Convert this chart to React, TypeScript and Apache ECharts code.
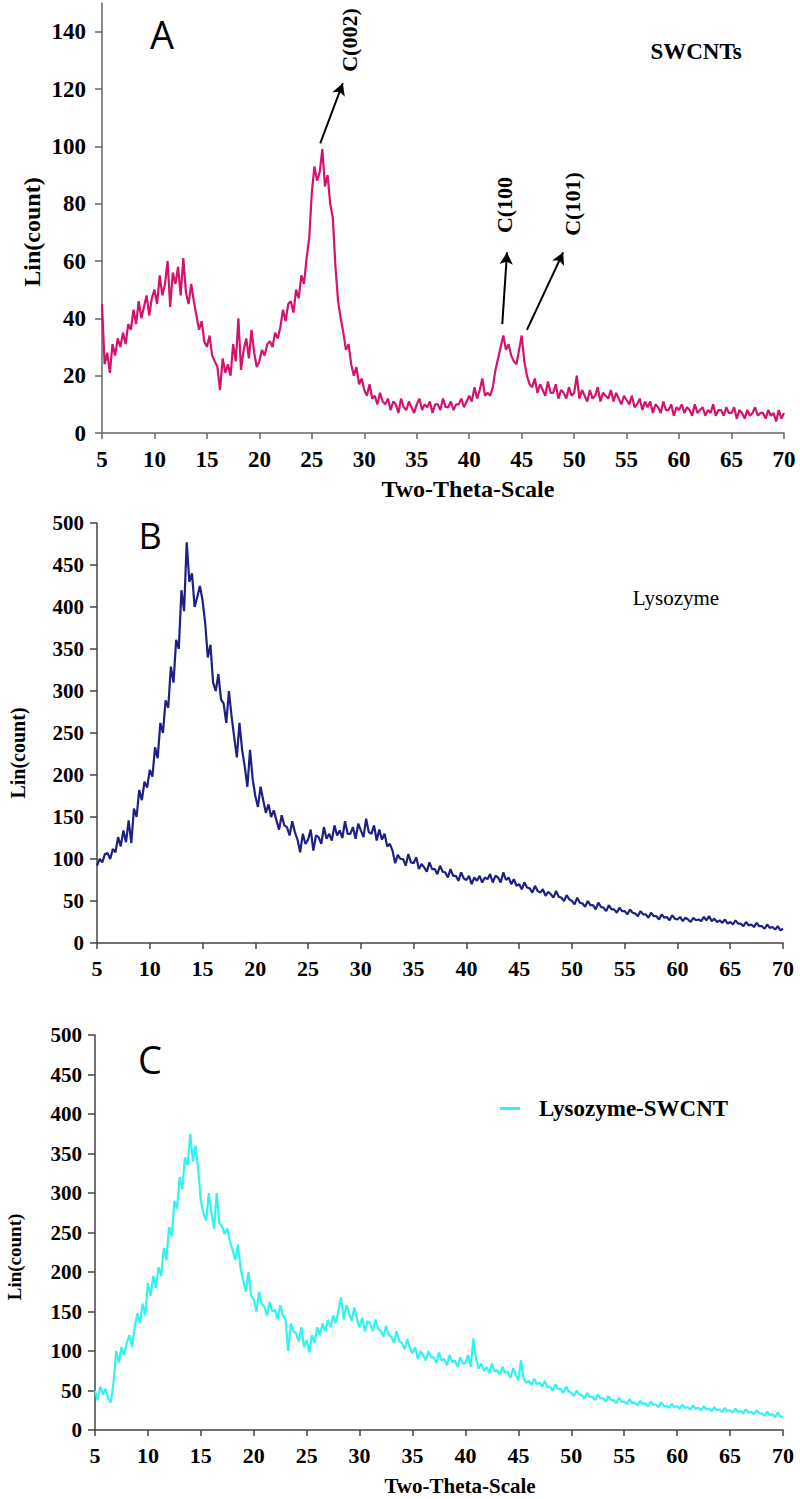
import React, { useEffect, useRef } from "react";
import * as echarts from "echarts";

// Two-theta sampling of the digitised patterns
const X_START = 5;
const X_STEP = 0.25;

// Panel A: SWCNTs, Lin(count), one row per degree (x, x+.25, x+.5, x+.75)
const swcntCounts = [
  45, 24, 28, 21, // 5
  31, 27, 33, 30, // 6
  35, 31, 38, 36, // 7
  43, 38, 46, 40, // 8
  44, 48, 41, 47, // 9
  50, 45, 55, 48, // 10
  52, 60, 44, 56, // 11
  52, 58, 48, 61, // 12
  49, 45, 52, 46, // 13
  41, 36, 39, 32, // 14
  30, 34, 27, 25, // 15
  23, 15, 26, 21, // 16
  24, 20, 31, 25, // 17
  40, 22, 29, 33, // 18
  26, 36, 28, 23, // 19
  25, 29, 27, 31, // 20
  32, 30, 35, 33, // 21
  37, 43, 39, 45, // 22
  46, 42, 50, 47, // 23
  55, 52, 61, 68, // 24
  84, 93, 88, 91, // 25
  99, 86, 90, 80, // 26
  75, 58, 46, 40, // 27
  35, 29, 31, 24, // 28
  20, 23, 17, 19, // 29
  15, 13, 17, 12, // 30
  13, 10, 14, 11, // 31
  10, 12, 8, 11, // 32
  10, 7, 12, 9, // 33
  8, 11, 9, 7, // 34
  10, 12, 8, 10, // 35
  9, 11, 7, 10, // 36
  10, 8, 12, 9, // 37
  9, 11, 8, 10, // 38
  10, 12, 9, 11, // 39
  13, 11, 16, 12, // 40
  15, 19, 13, 14, // 41
  13, 16, 22, 26, // 42
  30, 34, 29, 31, // 43
  27, 25, 24, 29, // 44
  34, 25, 20, 17, // 45
  16, 19, 14, 17, // 46
  15, 13, 18, 14, // 47
  14, 17, 12, 15, // 48
  14, 12, 16, 13, // 49
  14, 20, 12, 15, // 50
  13, 11, 15, 12, // 51
  13, 16, 11, 14, // 52
  13, 12, 15, 11, // 53
  14, 12, 10, 13, // 54
  11.5, 10, 13, 9, // 55
  10, 12, 8, 11, // 56
  9, 11, 7, 10, // 57
  9, 7, 11, 8, // 58
  8, 10, 6, 9, // 59
  8, 10, 7, 9, // 60
  8, 6, 10, 7, // 61
  8, 9, 6, 8, // 62
  7, 10, 6, 8, // 63
  8, 6, 9, 7, // 64
  7, 9, 5, 8, // 65
  7, 5, 8, 6, // 66
  7, 9, 6, 7, // 67
  7, 5, 8, 6, // 68
  7, 4, 8, 5, // 69
  7, // 70
];

// Panel B: Lysozyme
const lysozymeCounts = [
  92, 100, 96, 106, // 5
  107, 100, 112, 108, // 6
  126, 115, 134, 120, // 7
  146, 119, 160, 150, // 8
  182, 170, 192, 185, // 9
  206, 198, 233, 220, // 10
  262, 250, 289, 280, // 11
  329, 310, 361, 350, // 12
  420, 395, 477, 430, // 13
  440, 400, 412, 425, // 14
  408, 381, 340, 355, // 15
  310, 300, 320, 290, // 16
  285, 262, 300, 270, // 17
  245, 221, 262, 230, // 18
  210, 186, 230, 195, // 19
  175, 162, 186, 170, // 20
  155, 165, 150, 158, // 21
  146, 135, 152, 140, // 22
  138, 128, 145, 132, // 23
  123, 108, 130, 118, // 24
  123, 135, 110, 128, // 25
  126, 118, 138, 124, // 26
  130, 122, 140, 128, // 27
  134, 125, 145, 130, // 28
  130, 138, 124, 142, // 29
  134, 126, 148, 132, // 30
  130, 140, 122, 135, // 31
  123, 130, 115, 118, // 32
  110, 95, 105, 100, // 33
  100, 92, 106, 96, // 34
  95, 102, 88, 94, // 35
  90, 85, 96, 88, // 36
  88, 82, 92, 85, // 37
  84, 78, 88, 80, // 38
  80, 74, 84, 77, // 39
  75, 80, 70, 78, // 40
  74, 80, 72, 78, // 41
  76, 82, 72, 80, // 42
  78, 72, 84, 75, // 43
  78, 70, 76, 68, // 44
  70, 64, 72, 66, // 45
  65, 60, 68, 62, // 46
  60, 64, 56, 61, // 47
  58, 54, 62, 55, // 48
  54, 50, 57, 52, // 49
  50, 46, 54, 48, // 50
  47, 43, 50, 45, // 51
  45, 40, 48, 43, // 52
  42, 38, 45, 40, // 53
  40, 36, 42, 38, // 54
  38, 34, 40, 36, // 55
  35, 32, 38, 34, // 56
  34, 30, 36, 32, // 57
  32, 28, 34, 30, // 58
  31, 27, 33, 29, // 59
  28, 31, 26, 30, // 60
  28, 25, 30, 27, // 61
  28, 26, 31, 27, // 62
  32, 26, 29, 25, // 63
  27, 24, 28, 23, // 64
  25, 22, 27, 23, // 65
  23, 20, 25, 21, // 66
  22, 19, 24, 20, // 67
  20, 17, 22, 18, // 68
  19, 16, 20, 15, // 69
  17, // 70
];

// Panel C: Lysozyme-SWCNT
const lysoSwcntCounts = [
  50, 38, 55, 45, // 5
  52, 40, 35, 60, // 6
  100, 85, 105, 95, // 7
  110, 120, 105, 130, // 8
  148, 135, 160, 145, // 9
  186, 170, 195, 180, // 10
  206, 195, 230, 215, // 11
  257, 245, 290, 280, // 12
  320, 305, 345, 335, // 13
  375, 340, 360, 330, // 14
  290, 275, 265, 300, // 15
  275, 255, 300, 262, // 16
  258, 248, 255, 238, // 17
  228, 215, 235, 205, // 18
  190, 175, 200, 170, // 19
  165, 150, 175, 160, // 20
  156, 145, 162, 150, // 21
  152, 140, 158, 145, // 22
  140, 100, 135, 125, // 23
  122, 112, 130, 105, // 24
  114, 98, 120, 110, // 25
  130, 120, 135, 125, // 26
  139, 130, 145, 135, // 27
  152, 168, 140, 158, // 28
  148, 138, 155, 140, // 29
  130, 142, 125, 138, // 30
  135, 125, 140, 128, // 31
  126, 118, 132, 120, // 32
  118, 110, 125, 112, // 33
  110, 102, 115, 104, // 34
  97, 105, 90, 100, // 35
  95, 88, 100, 92, // 36
  92, 85, 98, 88, // 37
  90, 82, 95, 86, // 38
  88, 80, 92, 84, // 39
  85, 95, 80, 116, // 40
  90, 78, 84, 75, // 41
  80, 72, 84, 74, // 42
  76, 70, 80, 72, // 43
  74, 66, 78, 70, // 44
  63, 88, 65, 60, // 45
  62, 57, 65, 58, // 46
  60, 55, 62, 54, // 47
  55, 50, 58, 52, // 48
  52, 47, 55, 49, // 49
  47, 43, 50, 45, // 50
  44, 40, 47, 42, // 51
  42, 38, 45, 40, // 52
  40, 36, 43, 38, // 53
  38, 34, 41, 36, // 54
  36, 33, 39, 34, // 55
  35, 31, 37, 33, // 56
  34, 30, 36, 32, // 57
  32, 29, 35, 30, // 58
  31, 28, 33, 29, // 59
  30, 27, 32, 28, // 60
  29, 26, 31, 27, // 61
  28, 25, 30, 26, // 62
  27, 24, 29, 25, // 63
  26, 23, 28, 24, // 64
  25, 22, 27, 23, // 65
  24, 21, 26, 22, // 66
  23, 20, 25, 21, // 67
  21, 18, 23, 19, // 68
  20, 16, 22, 17, // 69
  17, // 70
];

const xTicks = [5, 10, 15, 20, 25, 30, 35, 40, 45, 50, 55, 60, 65, 70];
const yTicksA = [0, 20, 40, 60, 80, 100, 120, 140];

// Peak annotations (arrow tail -> head, in data coordinates)
const peakArrows = [
  { name: "C(002)", from: [25.8, 101], to: [27.95, 122] },
  { name: "C(100", from: [43.15, 38], to: [43.6, 63] },
  { name: "C(101)", from: [45.5, 36], to: [48.95, 63] },
];

const SERIF = "'Liberation Serif', 'Times New Roman', serif";
const toPairs = (arr: number[]) => arr.map((v, i) => [X_START + i * X_STEP, v]);

const xAxisBase = (gridIndex: number, labelSize: number, margin: number, axisColor: string) => ({
  type: "value",
  gridIndex,
  min: 5,
  max: 70,
  interval: 5,
  axisLine: { show: true, onZero: false, lineStyle: { color: axisColor, width: 1.5 } },
  axisTick: { show: true, length: 6, lineStyle: { color: axisColor, width: 1.5 } },
  axisLabel: {
    margin,
    color: "#000",
    fontFamily: SERIF,
    fontWeight: "bold",
    fontSize: labelSize,
    customValues: xTicks,
  },
  splitLine: { show: false },
});

const yAxisBase = (gridIndex: number, max: number, interval: number, labelSize: number, margin: number, axisColor: string) => ({
  type: "value",
  gridIndex,
  min: 0,
  max,
  interval,
  axisLine: { show: true, lineStyle: { color: axisColor, width: 1.5 } },
  axisTick: { show: true, length: 7, lineStyle: { color: axisColor, width: 1.5 } },
  axisLabel: {
    margin,
    color: "#000",
    fontFamily: SERIF,
    fontWeight: "bold",
    fontSize: labelSize,
  },
  splitLine: { show: false },
});

const txt = (text: string, x: number, y: number, font: string, rotation = 0, fill = "#000") => ({
  type: "text",
  x,
  y,
  rotation,
  silent: true,
  style: { text, font, fill, align: "center", verticalAlign: "middle" },
});

export default function App() {
  const ref = useRef<HTMLDivElement>(null);

  useEffect(() => {
    if (!ref.current) return;
    const chart = echarts.init(ref.current, undefined, { renderer: "svg" });

    const yA: any = yAxisBase(0, 150, 10, 23, 16, "#666");
    yA.axisLabel.customValues = yTicksA;
    yA.axisTick.customValues = yTicksA;

    const option: any = {
      animation: false,
      backgroundColor: "#fff",
      grid: [
        { left: 102, top: 3, width: 682, height: 430 },
        { left: 97, top: 523, width: 686, height: 420 },
        { left: 95, top: 1035, width: 688, height: 395 },
      ],
      xAxis: [
        xAxisBase(0, 23, 15, "#666"),
        xAxisBase(1, 22, 14, "#444"),
        xAxisBase(2, 22, 14, "#444"),
      ],
      yAxis: [
        yA,
        yAxisBase(1, 500, 50, 21, 13, "#444"),
        yAxisBase(2, 500, 50, 21, 13, "#444"),
      ],
      legend: {
        data: ["Lysozyme-SWCNT"],
        left: 500,
        top: 1097,
        padding: 0,
        icon: "rect",
        itemWidth: 20,
        itemHeight: 3,
        textStyle: {
          fontFamily: SERIF,
          fontWeight: "bold",
          fontSize: 23,
          color: "#000",
          padding: [0, 0, 0, 14],
        },
      },
      series: [
        {
          name: "SWCNTs",
          type: "line",
          xAxisIndex: 0,
          yAxisIndex: 0,
          data: toPairs(swcntCounts),
          showSymbol: false,
          lineStyle: { color: "#d4136e", width: 2.2 },
          itemStyle: { color: "#d4136e" },
          markLine: {
            silent: true,
            symbol: ["none", "arrow"],
            symbolSize: [10, 12],
            label: { show: false },
            lineStyle: { color: "#000", width: 2, type: "solid" },
            data: peakArrows.map((a) => [
              { coord: a.from },
              { coord: a.to },
            ]),
          },
        },
        {
          name: "Lysozyme",
          type: "line",
          xAxisIndex: 1,
          yAxisIndex: 1,
          data: toPairs(lysozymeCounts),
          showSymbol: false,
          lineStyle: { color: "#1f2083", width: 2.2 },
          itemStyle: { color: "#1f2083" },
        },
        {
          name: "Lysozyme-SWCNT",
          type: "line",
          xAxisIndex: 2,
          yAxisIndex: 2,
          data: toPairs(lysoSwcntCounts),
          showSymbol: false,
          lineStyle: { color: "#33f2f2", width: 2.2 },
          itemStyle: { color: "#33f2f2" },
        },
      ],
      graphic: [
        txt("A", 162, 34, "normal 38px 'Open Sans', 'DejaVu Sans', sans-serif"),
        txt("B", 150, 535, "normal 36px 'Open Sans', 'DejaVu Sans', sans-serif"),
        txt("C", 150, 1059, "normal 38px 'Open Sans', 'DejaVu Sans', sans-serif"),
        txt("SWCNTs", 696, 51, `bold 23px ${SERIF}`),
        txt("Lysozyme", 676, 598, `normal 21px ${SERIF}`),
        txt("Lin(count)", 32, 232, `bold 24px ${SERIF}`, Math.PI / 2),
        txt("Lin(count)", 18, 753, `bold 20px ${SERIF}`, Math.PI / 2),
        txt("Lin(count)", 14, 1257, `bold 19px ${SERIF}`, Math.PI / 2),
        txt("Two-Theta-Scale", 468, 489, `bold 24px ${SERIF}`),
        txt("Two-Theta-Scale", 460, 1486, `bold 21px ${SERIF}`),
        txt("C(002)", 349, 40, `bold 22px ${SERIF}`, Math.PI / 2),
        txt("C(100", 504, 205, `bold 22px ${SERIF}`, Math.PI / 2),
        txt("C(101)", 572, 204, `bold 22px ${SERIF}`, Math.PI / 2),
      ],
    };

    chart.setOption(option);
    return () => chart.dispose();
  }, []);

  return (
    <div
      ref={ref}
      style={{ position: "absolute", left: 0, top: 0, width: 800, height: 1499, background: "#fff" }}
    />
  );
}
